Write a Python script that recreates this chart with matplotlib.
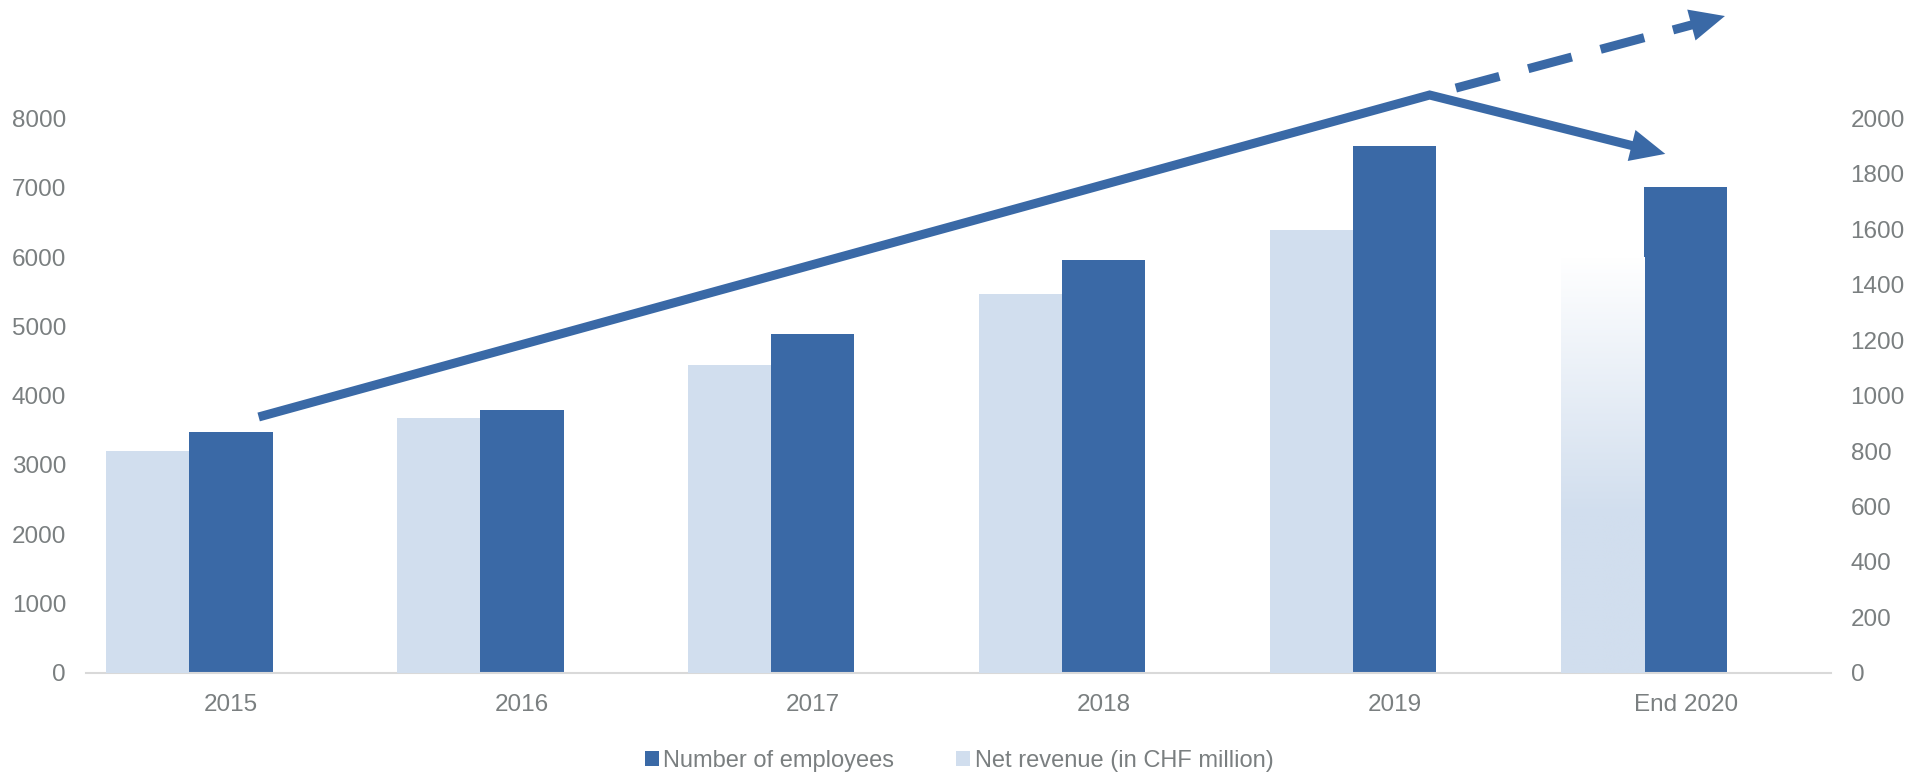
import matplotlib.pyplot as plt
import numpy as np
from matplotlib.colors import LinearSegmentedColormap

years = ['2015', '2016', '2017', '2018', '2019', 'End 2020']
employees = [3480, 3800, 4890, 5960, 7600, 7010]
revenue = [800, 918, 1112, 1366, 1598, 1500]

# trend arrows, in (category, employees) units
trend_x = [0.11, 4.12, 4.93]
trend_y = [3710, 8340, 7490]
dash_x = [4.21, 5.135]
dash_y = [8440, 9480]

dark = '#3a69a6'
light = '#d1deee'
grey = '#7a7f80'

plt.rcParams['font.family'] = ['Liberation Sans', 'DejaVu Sans']

fig = plt.figure(figsize=(19.18, 7.78), dpi=100)
ax = fig.add_axes([0.0446, 0.1352, 0.9101, 0.7124])
ax2 = ax.twinx()

x = np.arange(len(years))
w = 0.286

emp = ax.bar(x, employees, w, color=dark, label='Number of employees')
rev = ax2.bar(x[:-1] - w, revenue[:-1], w, color=light, label='Net revenue (in CHF million)')

# last revenue bar fades out to white at the top
last = ax2.bar(x[-1] - w, revenue[-1], w, color='none', linewidth=0)[0]
cmap = LinearSegmentedColormap.from_list('fade', [(0, '#ffffff'), (0.62, light), (1, light)])
grad = np.linspace(0, 1, 256).reshape(-1, 1)
im = ax2.imshow(grad, cmap=cmap, aspect='auto', origin='upper',
                extent=[x[-1] - 1.5 * w, x[-1] - 0.5 * w, 0, revenue[-1]])
im.set_clip_path(last)

ax.set_xlim(-0.5, len(years) - 0.5)
ax.set_ylim(0, 8000)
ax2.set_ylim(0, 2000)
ax.set_yticks(np.arange(0, 8001, 1000))
ax2.set_yticks(np.arange(0, 2001, 200))
ax.set_xticks(x)
ax.set_xticklabels(years)

for a in (ax, ax2):
    for s in a.spines.values():
        s.set_visible(False)
    a.tick_params(length=0, labelsize=17.5, colors=grey)
ax.spines['bottom'].set_visible(True)
ax.spines['bottom'].set_color('#d9d9d9')
ax.spines['bottom'].set_linewidth(1.5)
ax.tick_params(axis='y', pad=14)
ax.tick_params(axis='x', pad=15)
ax2.tick_params(axis='y', pad=14)

# trend arrows (drawn on top axes, in left-axis units)
lw = 6.5
T = ax.transData
head = dict(arrowstyle='-|>,head_length=2.5,head_width=1.15', mutation_scale=10,
            color=dark, lw=0, shrinkA=0, shrinkB=0)


def back(xs, ys, f):
    # point a little before the tip, hidden under the head
    return xs[-1] - f * (xs[-1] - xs[-2]), ys[-1] - f * (ys[-1] - ys[-2])


sx, sy = back(trend_x, trend_y, 0.1)
ax2.plot(trend_x[:2] + [sx], trend_y[:2] + [sy], color=dark, lw=lw, transform=T,
         clip_on=False, solid_joinstyle='miter', zorder=5)
ax2.annotate('', xy=(trend_x[2], trend_y[2]), xytext=(sx, sy),
             xycoords=T, textcoords=T, annotation_clip=False, arrowprops=head)

dx, dy = back(dash_x, dash_y, 0.08)
ax2.plot([dash_x[0], dx], [dash_y[0], dy], color=dark, lw=lw, transform=T,
         clip_on=False, dashes=(5.0, 3.3), zorder=5)
ax2.annotate('', xy=(dash_x[1], dash_y[1]), xytext=(dx, dy),
             xycoords=T, textcoords=T, annotation_clip=False, arrowprops=head)

leg = fig.legend(handles=[emp, rev], loc='lower center', bbox_to_anchor=(0.5, -0.02),
                 ncol=2, frameon=False, fontsize=17, labelcolor=grey,
                 handlelength=0.6, handleheight=0.6, handletextpad=0.2,
                 columnspacing=2.6)

fig.savefig('out.png', dpi=100)
